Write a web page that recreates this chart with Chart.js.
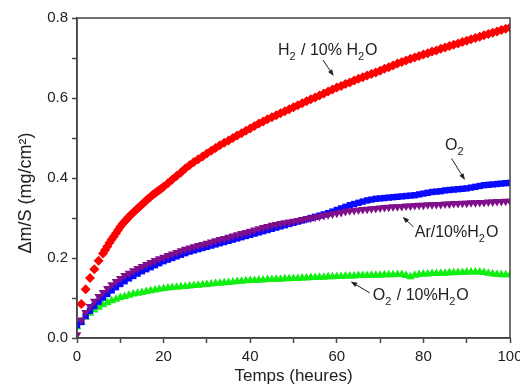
<!DOCTYPE html>
<html>
<head>
<meta charset="utf-8">
<script src="https://cdn.jsdelivr.net/npm/chart.js@4/dist/chart.umd.min.js"></script>
<style>
  body { margin: 0; background: #fff; }
  #wrap { width: 520px; height: 388px; }
</style>
</head>
<body>
<div id="wrap"><canvas id="courbe" width="520" height="388"></canvas></div>
<script>
// Prise de masse en fonction du temps (heures)
const heures = [0, 1, 2, 3, 4, 5, 6, 7, 8, 9, 10, 11, 12, 13, 14, 15, 16, 17, 18, 19,
  20, 21, 22, 23, 24, 25, 26, 27, 28, 29, 30, 31, 32, 33, 34, 35, 36, 37, 38, 39,
  40, 41, 42, 43, 44, 45, 46, 47, 48, 49, 50, 51, 52, 53, 54, 55, 56, 57, 58, 59,
  60, 61, 62, 63, 64, 65, 66, 67, 68, 69, 70, 71, 72, 73, 74, 75, 76, 77, 78, 79,
  80, 81, 82, 83, 84, 85, 86, 87, 88, 89, 90, 91, 92, 93, 94, 95, 96, 97, 98, 99, 100];

// la série H2 est mesurée plus finement entre 6 et 20 h
const heuresH2 = [1, 2, 3, 4, 5, 6, 6.5, 7, 7.5, 8, 8.5, 9, 9.5, 10, 10.5, 11, 11.5,
  12, 12.5, 13, 13.5, 14, 14.5, 15, 15.5, 16, 16.5, 17, 17.5, 18, 18.5, 19, 19.5,
  20, 21, 22, 23, 24, 25, 26, 27, 28, 29, 30, 31, 32, 33, 34, 35, 36, 37, 38, 39,
  40, 41, 42, 43, 44, 45, 46, 47, 48, 49, 50, 51, 52, 53, 54, 55, 56, 57, 58, 59,
  60, 61, 62, 63, 64, 65, 66, 67, 68, 69, 70, 71, 72, 73, 74, 75, 76, 77, 78, 79,
  80, 81, 82, 83, 84, 85, 86, 87, 88, 89, 90, 91, 92, 93, 94, 95, 96, 97, 98, 99, 100];

// H2 / 10% H2O
const h2Eau = [.085, .122, .150, .172, .193, .211, .220, .229, .238, .246, .254,
  .262, .270, .278, .285, .291, .297, .303, .309, .314, .319, .324, .329, .334,
  .339, .344, .349, .353, .358, .362, .366, .370, .374,
  .378, .387, .396, .405, .414, .424, .432, .440, .447, .454,
  .461, .468, .475, .482, .488, .494, .500, .506, .512, .518,
  .524, .530, .536, .541, .547, .552, .557, .562, .567, .572,
  .577, .582, .587, .592, .597, .601, .606, .611, .616, .621,
  .626, .630, .635, .639, .644, .648, .652, .656, .660, .664,
  .668, .673, .677, .681, .686, .690, .694, .698, .701, .705,
  .709, .712, .716, .719, .723, .726, .730, .733, .736, .740,
  .743, .747, .750, .753, .757, .760, .763, .766, .770, .773, .776];

// O2
const o2 = [.032, .040, .055, .068, .080, .091, .101, .110, .119, .127,
  .135, .142, .149, .155, .161, .167, .172, .177, .182, .187,
  .192, .196, .200, .204, .208, .212, .216, .219, .222, .225,
  .228, .231, .234, .237, .240, .243, .246, .249, .252, .255,
  .258, .261, .264, .267, .270, .273, .276, .279, .282, .285,
  .288, .291, .294, .297, .300, .303, .306, .309, .312, .316,
  .320, .324, .328, .332, .335, .338, .341, .344, .346, .348,
  .349, .350, .351, .352, .353, .354, .355, .356, .357, .359,
  .361, .363, .365, .366, .367, .369, .370, .371, .372, .373,
  .374, .376, .378, .380, .382, .383, .384, .385, .386, .387, .388];

// Ar / 10% H2O
const arEau = [.008, .045, .064, .079, .092, .104, .114, .124, .133, .141,
  .149, .156, .162, .168, .174, .179, .184, .189, .194, .198,
  .202, .206, .210, .214, .218, .222, .225, .228, .231, .234,
  .237, .240, .243, .246, .249, .252, .255, .258, .261, .264,
  .267, .270, .273, .276, .279, .282, .284, .286, .288, .290,
  .292, .294, .296, .298, .300, .302, .304, .306, .308, .310,
  .312, .314, .316, .318, .319, .320, .321, .322, .323, .324,
  .325, .326, .327, .328, .328, .329, .330, .330, .331, .332,
  .332, .333, .333, .334, .334, .335, .335, .336, .336, .337,
  .337, .338, .338, .339, .339, .340, .340, .341, .341, .342, .342];

// O2 / 10% H2O
const o2Eau = [.028, .040, .052, .062, .070, .077, .083, .088, .093, .097,
  .101, .104, .107, .110, .112, .114, .116, .118, .120, .122,
  .124, .125, .126, .127, .128, .129, .130, .131, .132, .133,
  .134, .135, .136, .137, .138, .139, .140, .141, .142, .143,
  .144, .144, .145, .145, .146, .146, .147, .147, .148, .148,
  .149, .149, .150, .150, .151, .151, .152, .152, .153, .153,
  .154, .154, .155, .155, .155, .156, .156, .156, .157, .157,
  .157, .158, .158, .158, .159, .159, .156, .153, .157, .159,
  .160, .160, .161, .161, .162, .162, .163, .163, .164, .164,
  .165, .165, .165, .165, .164, .162, .160, .159, .158, .158, .158];

// Etiquettes (texte, position en unités de données, flèche queue -> pointe)
const etiquettes = [
  { parts: [['H', 0], ['2', 1], [' / 10% H', 0], ['2', 1], ['O', 0]], x: 46.4, y: 0.708,
    fleche: [56.8, 0.695, 59.3, 0.655] },
  { parts: [['O', 0], ['2', 1]], x: 85.0, y: 0.469,
    fleche: [86.5, 0.449, 89.6, 0.395] },
  { parts: [['Ar/10%H', 0], ['2', 1], ['O', 0]], x: 78.0, y: 0.253,
    fleche: [77.7, 0.278, 75.2, 0.303] },
  { parts: [['O', 0], ['2', 1], [' / 10%H', 0], ['2', 1], ['O', 0]], x: 68.3, y: 0.095,
    fleche: [67.6, 0.113, 63.2, 0.141] }
];

const POLICE = '"Liberation Sans", Arial, sans-serif';
const GRIS = '#444';

function points(temps, valeurs) {
  return temps.map((h, i) => ({ x: h, y: valeurs[i] }));
}

// Cadre, titres d'axes et étiquettes avec flèches
const decor = {
  id: 'decor',
  afterDraw(chart) {
    const { ctx, chartArea: a, scales } = chart;
    const sx = scales.x, sy = scales.y;
    ctx.save();

    ctx.strokeStyle = GRIS;
    ctx.lineWidth = 1.5;
    ctx.strokeRect(a.left, a.top, a.right - a.left, a.bottom - a.top);

    // titre axe X
    ctx.fillStyle = '#222';
    ctx.font = '17px ' + POLICE;
    ctx.textAlign = 'center';
    ctx.textBaseline = 'middle';
    ctx.fillText('Temps (heures)', (a.left + a.right) / 2, 376);

    // titre axe Y
    ctx.save();
    ctx.translate(26, 193);
    ctx.rotate(-Math.PI / 2);
    ctx.font = '18px ' + POLICE;
    ctx.fillText('\u0394m/S (mg/cm\u00B2)', 0, 0);
    ctx.restore();

    // étiquettes
    ctx.textAlign = 'left';
    ctx.textBaseline = 'alphabetic';
    etiquettes.forEach(e => {
      let px = sx.getPixelForValue(e.x);
      const py = sy.getPixelForValue(e.y);
      e.parts.forEach(([txt, sub]) => {
        ctx.font = (sub ? '11px ' : '16px ') + POLICE;
        ctx.fillText(txt, px, py + (sub ? 5 : 0));
        px += ctx.measureText(txt).width + (sub ? 1 : 0);
      });

      const [x0, y0, x1, y1] = e.fleche;
      const ax = sx.getPixelForValue(x0), ay = sy.getPixelForValue(y0);
      const bx = sx.getPixelForValue(x1), by = sy.getPixelForValue(y1);
      const ang = Math.atan2(by - ay, bx - ax);
      ctx.strokeStyle = '#222';
      ctx.lineWidth = 1;
      ctx.beginPath();
      ctx.moveTo(ax, ay);
      ctx.lineTo(bx - 4 * Math.cos(ang), by - 4 * Math.sin(ang));
      ctx.stroke();
      ctx.beginPath();
      ctx.moveTo(bx, by);
      ctx.lineTo(bx - 7 * Math.cos(ang - 0.35), by - 7 * Math.sin(ang - 0.35));
      ctx.lineTo(bx - 7 * Math.cos(ang + 0.35), by - 7 * Math.sin(ang + 0.35));
      ctx.closePath();
      ctx.fillStyle = '#222';
      ctx.fill();
    });
    ctx.restore();
  }
};

const serie = (temps, data, couleur, style, rayon, rotation) => ({
  data: points(temps, data),
  showLine: false,
  pointStyle: style,
  pointRadius: rayon,
  pointRotation: rotation || 0,
  pointBackgroundColor: couleur,
  pointBorderColor: couleur,
  pointBorderWidth: 0
});

new Chart(document.getElementById('courbe'), {
  type: 'scatter',
  data: {
    datasets: [
      serie(heuresH2, h2Eau, '#ff0000', 'rectRot', 5),
      serie(heures, arEau, '#7f0f8a', 'triangle', 5, 180),
      serie(heures, o2, '#0a0aff', 'rect', 4.5),
      serie(heures, o2Eau, '#11ee11', 'triangle', 5)
    ]
  },
  options: {
    responsive: false,
    animation: false,
    layout: { padding: { left: 0, right: 10, top: 18, bottom: 0 } },
    plugins: { legend: { display: false }, tooltip: { enabled: false } },
    scales: {
      x: {
        type: 'linear', min: 0, max: 100,
        afterFit: s => { s.height = 50; s.paddingLeft = 0; s.paddingRight = 0; },
        ticks: {
          stepSize: 10, padding: 5, color: '#222', maxRotation: 0,
          font: { family: POLICE, size: 15 },
          callback: v => (v % 20 === 0 ? v : '')
        },
        grid: { drawOnChartArea: false, tickLength: 5, color: GRIS, tickWidth: 1.5 },
        border: { color: GRIS, width: 1.5 }
      },
      y: {
        min: 0, max: 0.8,
        afterFit: s => { s.width = 77; },
        ticks: {
          stepSize: 0.1, padding: 4, color: '#222',
          font: { family: POLICE, size: 15 },
          callback: v => (Math.round(v * 10) % 2 === 0 ? v.toFixed(1) : '')
        },
        grid: { drawOnChartArea: false, tickLength: 5, color: GRIS, tickWidth: 1.5 },
        border: { color: GRIS, width: 1.5 }
      }
    }
  },
  plugins: [decor]
});
</script>
</body>
</html>
